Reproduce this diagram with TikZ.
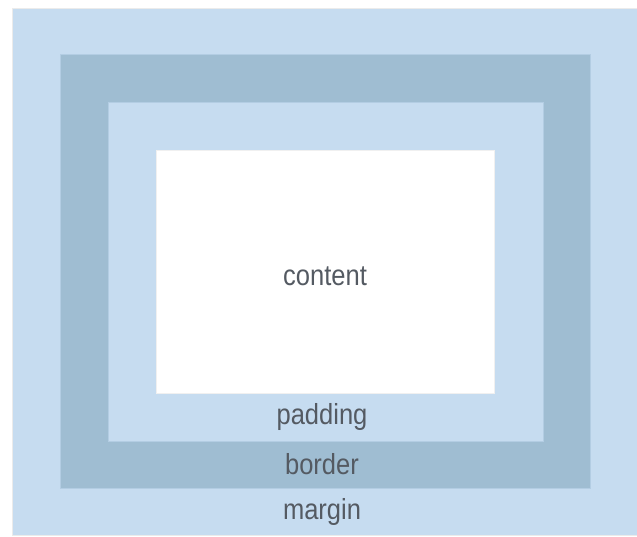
\documentclass[tikz,border=0pt]{standalone}
\usepackage{fontspec}
\setmainfont{Liberation Sans}[FakeStretch=0.88]
\definecolor{marginblue}{HTML}{C6DCF0}
\definecolor{borderblue}{HTML}{9FBDD2}
\definecolor{edgeblue}{HTML}{B3CDE3}
\definecolor{labelgray}{HTML}{545A62}
\begin{document}
\begin{tikzpicture}[x=1pt,y=-1pt,
  boxlabel/.style={text=labelgray,font=\fontsize{29}{31}\selectfont,inner sep=0pt,anchor=center}]
\useasboundingbox (0,0) rectangle (637,537);
\fill[white] (0,0) rectangle (637,537);
\filldraw[fill=marginblue,draw=black!8,line width=1.5pt] (12.5,8.5) rectangle (640,535.5);
\filldraw[fill=borderblue,draw=edgeblue,line width=1pt] (60,55) rectangle (590,488);
\filldraw[fill=marginblue,draw=edgeblue,line width=1pt] (108,103) rectangle (543,441);
\filldraw[fill=white,draw=black!6,line width=1pt] (156,151) rectangle (494,393);
\node[boxlabel] (content) at (325,276) {content};
\node[boxlabel] (padding) at (322,417) {padding};
\node[boxlabel] (border) at (322,464) {border};
\node[boxlabel] (margin) at (322,512) {margin};
\end{tikzpicture}
\end{document}
